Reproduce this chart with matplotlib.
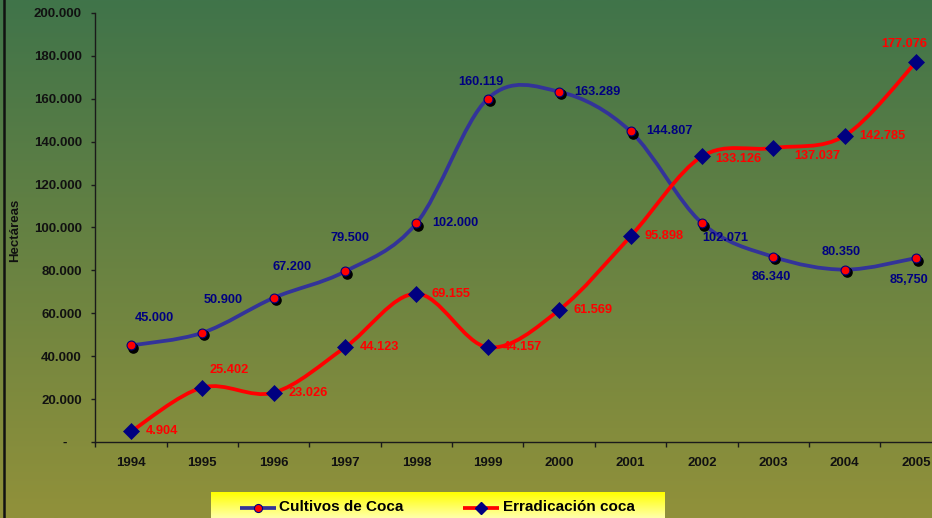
import numpy as np
import matplotlib
matplotlib.use('Agg')
import matplotlib.pyplot as plt
from matplotlib.path import Path
from matplotlib.patches import PathPatch
from matplotlib.lines import Line2D
import matplotlib.transforms as mtransforms

plt.rcParams['font.family'] = ['Liberation Sans', 'DejaVu Sans']
plt.rcParams['font.weight'] = 'bold'

# ---------------- data ----------------
years = ['1994', '1995', '1996', '1997', '1998', '1999',
         '2000', '2001', '2002', '2003', '2004', '2005']
cultivos = [45000, 50900, 67200, 79500, 102000, 160119,
            163289, 144807, 102071, 86340, 80350, 85750]
erradicacion = [4904, 25402, 23026, 44123, 69155, 44157,
                61569, 95898, 133126, 137037, 142785, 177076]
cultivos_labels = ['45.000', '50.900', '67.200', '79.500', '102.000', '160.119',
                   '163.289', '144.807', '102.071', '86.340', '80.350', '85,750']
erradicacion_labels = ['4.904', '25.402', '23.026', '44.123', '69.155', '44.157',
                       '61.569', '95.898', '133.126', '137.037', '142.785', '177.076']
yticks = [0, 20000, 40000, 60000, 80000, 100000, 120000, 140000, 160000, 180000, 200000]
ytick_labels = ['-    ', '20.000', '40.000', '60.000', '80.000', '100.000',
                '120.000', '140.000', '160.000', '180.000', '200.000']
series_names = ['Cultivos de Coca', 'Erradicación coca']
ylabel = 'Hectáreas'

# ---------------- layout (pixel offsets for data labels) ----------------
cult_off = [(23, 27), (21, 33), (18, 31), (5, 33), (39, 0), (-7, 17),
            (38, 0), (39, 0), (23, -15), (-2, -20), (-3, 18), (-7, -22)]
err_off = [(31, 0), (27, 18), (34, 0), (34, 0), (34, 0), (34, 0),
           (34, 0), (34, 0), (36, -3), (44, -8), (38, 0), (-12, 18)]

W, H = 932, 518
fig = plt.figure(figsize=(W / 100, H / 100), dpi=100)

# background gradient
bg = fig.add_axes([0, 0, 1, 1], zorder=-10)
top_c = np.array([64, 116, 74]) / 255
bot_c = np.array([145, 145, 58]) / 255
t = np.linspace(0, 1, 256)[:, None, None]
grad = top_c[None, None, :] * (1 - t) + bot_c[None, None, :] * t
bg.imshow(grad, aspect='auto', extent=[0, 1, 0, 1])
bg.set_axis_off()

ax = fig.add_axes([95.3 / W, (H - 442) / H, 856.4 / W, 429 / H])
ax.patch.set_alpha(0)
x = np.arange(len(years))
ax.set_xlim(-0.5, len(years) - 0.5)
ax.set_ylim(0, 200000)


def smooth_path(xs, ys):
    P = np.column_stack([xs, ys]).astype(float)
    n = len(P)
    verts = [P[0]]
    codes = [Path.MOVETO]
    for i in range(n - 1):
        p0 = P[i - 1] if i > 0 else P[i]
        p1 = P[i]
        p2 = P[i + 1]
        p3 = P[i + 2] if i + 2 < n else P[i + 1]
        c1 = p1 + (p2 - p0) / 6
        c2 = p2 - (p3 - p1) / 6
        verts += [c1, c2, p2]
        codes += [Path.CURVE4] * 3
    return Path(verts, codes)


blue = '#333399'
red = '#ff0000'
navy = '#000080'

ax.add_patch(PathPatch(smooth_path(x, cultivos), facecolor='none', edgecolor=blue,
                       lw=2.7, capstyle='round', joinstyle='round', zorder=3))
ax.add_patch(PathPatch(smooth_path(x, erradicacion), facecolor='none', edgecolor=red,
                       lw=2.7, capstyle='round', joinstyle='round', zorder=4))

shadow = ax.transData + mtransforms.ScaledTranslation(2 / 100, -2.5 / 100, fig.dpi_scale_trans)
ax.plot(x, cultivos, linestyle='none', marker='o', markersize=6.6, color='black',
        transform=shadow, zorder=5)
ax.plot(x, cultivos, linestyle='none', marker='o', markersize=6.4, markerfacecolor='#ff0000',
        markeredgecolor=navy, markeredgewidth=0.8, zorder=6)
ax.plot(x, erradicacion, linestyle='none', marker='D', markersize=8.2, markerfacecolor=navy,
        markeredgecolor=navy, markeredgewidth=0.5, zorder=6)

for xi, yi, lab, off in zip(x, cultivos, cultivos_labels, cult_off):
    ax.annotate(lab, (xi, yi), xytext=off, textcoords='offset pixels', ha='center',
                va='center', fontsize=9.2, fontweight='bold', color=navy, zorder=5.5)
for xi, yi, lab, off in zip(x, erradicacion, erradicacion_labels, err_off):
    ax.annotate(lab, (xi, yi), xytext=off, textcoords='offset pixels', ha='center',
                va='center', fontsize=9.2, fontweight='bold', color=red, zorder=5.5)

# axes styling
for s in ['top', 'right']:
    ax.spines[s].set_visible(False)
for s in ['left', 'bottom']:
    ax.spines[s].set_color('#1a1a1a')
    ax.spines[s].set_linewidth(1)

ax.set_yticks(yticks)
ax.set_yticklabels(ytick_labels, fontsize=9.5, fontweight='bold', color='#111111')
ax.tick_params(axis='y', direction='out', length=3.2, width=1, color='#1a1a1a', pad=6.5)

ax.set_xticks(np.arange(-0.5, len(years), 1))
ax.set_xticklabels([])
ax.tick_params(axis='x', which='major', direction='out', length=3.3, width=1, color='#1a1a1a')
ax.set_xticks(x, minor=True)
ax.set_xticklabels(years, minor=True, fontsize=9.5, fontweight='bold', color='#111111')
ax.tick_params(axis='x', which='minor', length=0, pad=11)

fig.text(15 / W, 1 - 230 / H, ylabel, rotation=90, ha='center', va='center',
         fontsize=9.5, fontweight='bold', color='#111111')

# left border line
fig.add_artist(Line2D([4 / W, 4 / W], [0, 1], transform=fig.transFigure,
                      color='#111111', lw=1.8))

# legend box
lg = fig.add_axes([211 / W, 0, 454 / W, 26 / H], zorder=10)
lt = np.linspace(0, 1, 64)[:, None, None]
ly_top = np.array([255, 255, 0]) / 255
ly_bot = np.array([255, 255, 170]) / 255
lgrad = ly_top[None, None, :] * (1 - lt) + ly_bot[None, None, :] * lt
lg.imshow(lgrad, aspect='auto', extent=[0, 454, 0, 26])
lg.set_xlim(0, 454)
lg.set_ylim(0, 26)
lg.set_axis_off()
ly = 10.5
lg.plot([29, 65], [ly, ly], color=blue, lw=2.7, solid_capstyle='butt')
lg.plot([47], [ly], marker='o', markersize=5.8, markerfacecolor='#ff0000',
        markeredgecolor=navy, markeredgewidth=0.8)
lg.text(68, ly + 0.5, series_names[0], fontsize=11, fontweight='bold', color='black',
        va='center', ha='left')
lg.plot([252, 288], [ly, ly], color=red, lw=2.7, solid_capstyle='butt')
lg.plot([270], [ly], marker='D', markersize=6.3, markerfacecolor=navy,
        markeredgecolor=navy)
lg.text(292, ly + 0.5, series_names[1], fontsize=11, fontweight='bold', color='black',
        va='center', ha='left')

fig.savefig('out.png', dpi=100)
